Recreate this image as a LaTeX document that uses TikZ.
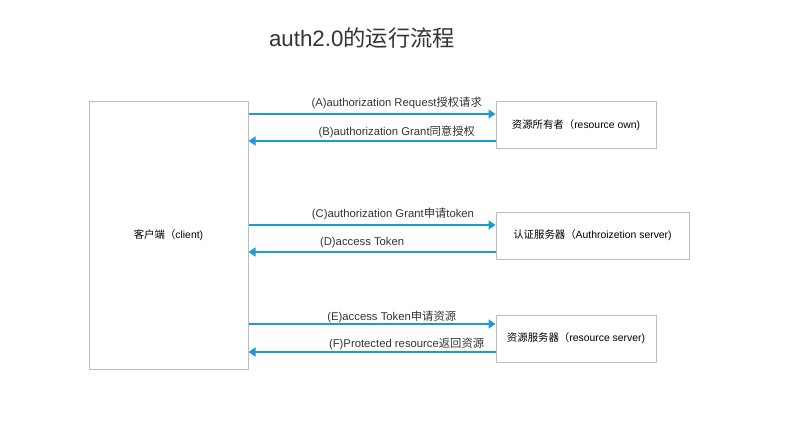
\documentclass[tikz,border=0pt]{standalone}
\usepackage{fontspec}
\setmainfont{Liberation Sans}
\newfontfamily\cjk{Noto Sans CJK SC}
\usepackage{xcolor}
\usetikzlibrary{arrows.meta, positioning}
\definecolor{flowblue}{HTML}{1A9BD4}
\definecolor{boxgray}{HTML}{BDBDBD}
\definecolor{titlegray}{HTML}{333333}
\newcommand{\zh}[1]{{\cjk #1}}

\begin{document}
\begin{tikzpicture}[
  x=1pt, y=-1pt,
  party/.style={draw=boxgray, line width=1pt, fill=white, inner sep=0pt, font=\fontsize{10.4}{12}\selectfont, text=black},
  flow/.style={draw=flowblue, line width=1.3pt, -{Triangle[length=7pt, width=9pt]}},
  msg/.style={font=\fontsize{11.3}{13}\selectfont, text=titlegray, inner sep=1pt},
]
  \useasboundingbox (0,0) rectangle (808,433);

  % Title
  \node[font=\fontsize{22.3}{26}\selectfont, text=titlegray] (title) at (362,38) {auth2.0\zh{的运行流程}};

  % Client
  \node[party, minimum width=159pt, minimum height=267pt] (client) at (168.5,235.5) {\zh{客户端（}client)};

  % Resource owner
  \node[party, minimum width=160pt, minimum height=46pt] (owner) at (576,125) {\zh{资源所有者（}resource own)};

  % Authorization server
  \node[party, minimum width=193pt, minimum height=47pt] (auth) at (592.5,235.5) {\zh{认证服务器（}Authroizetion server)};

  % Resource server
  \node[party, minimum width=160pt, minimum height=47pt] (server) at (576,338.5) {\zh{资源服务器（}resource server)};

  % Owner exchange
  \draw[flow] (client.east |- 0,114) -- (owner.west |- 0,114)
    node[msg, above, pos=0.6, yshift=4pt] {(A)authorization Request\zh{授权请求}};
  \draw[flow] (owner.west |- 0,141) -- (client.east |- 0,141)
    node[msg, above, pos=0.4, yshift=2pt] {(B)authorization Grant\zh{同意授权}};

  % Token exchange
  \draw[flow] (client.east |- 0,225) -- (auth.west |- 0,225)
    node[msg, above, pos=0.585, yshift=4pt] {(C)authorization Grant\zh{申请}token};
  \draw[flow] (auth.west |- 0,252) -- (client.east |- 0,252)
    node[msg, above, pos=0.54, yshift=3pt] {(D)access Token};

  % Resource exchange
  \draw[flow] (client.east |- 0,324) -- (server.west |- 0,324)
    node[msg, above, pos=0.58] {(E)access Token\zh{申请资源}};
  \draw[flow] (server.west |- 0,352) -- (client.east |- 0,352)
    node[msg, above, pos=0.36, yshift=1pt] {(F)Protected resource\zh{返回资源}};
\end{tikzpicture}
\end{document}
